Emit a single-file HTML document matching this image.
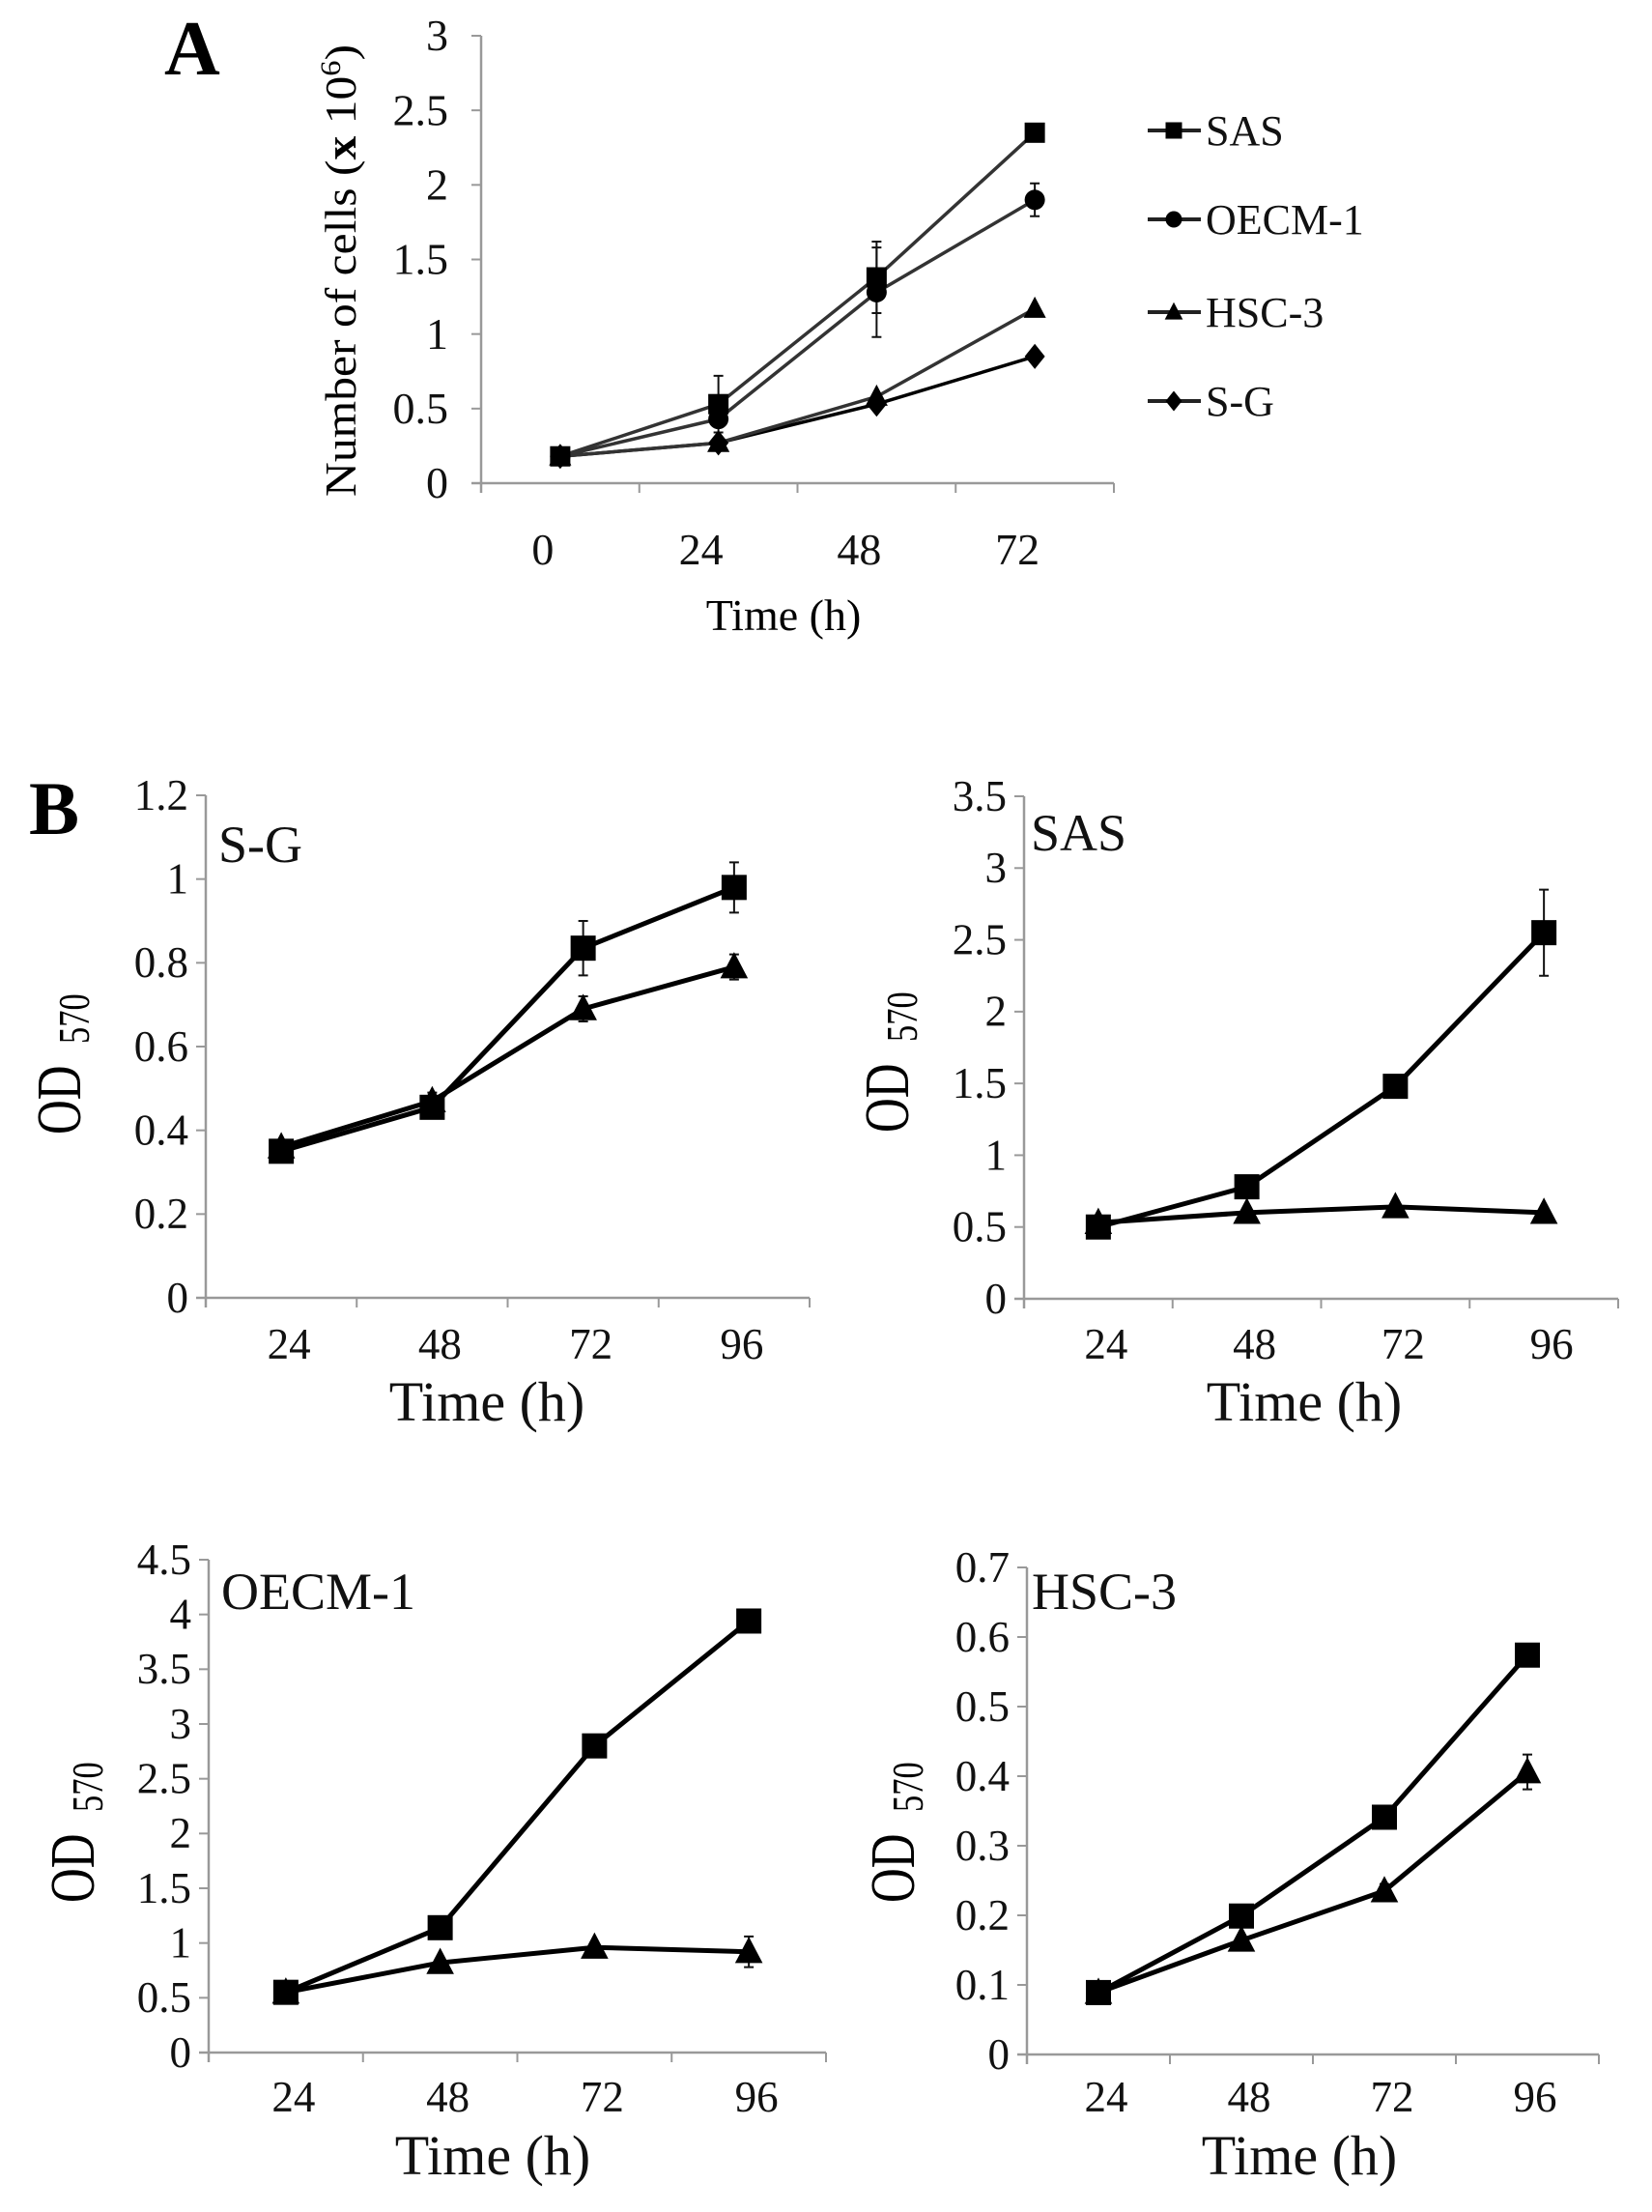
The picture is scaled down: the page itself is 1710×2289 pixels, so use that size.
<!DOCTYPE html>
<html><head><meta charset="utf-8"><style>
html,body{margin:0;padding:0;background:#fff}
svg{display:block;font-family:"Liberation Serif",serif}
</style></head><body>
<svg id="fig" width="1710" height="2289" viewBox="0 0 1710 2289" xmlns="http://www.w3.org/2000/svg">
<rect width="1710" height="2289" fill="#fff"/>
<text x="170" y="77" font-size="80" font-weight="bold">A</text>
<text x="30" y="863" font-size="78" font-weight="bold">B</text>
<text transform="translate(368,514) rotate(-90)" font-size="46" textLength="468" lengthAdjust="spacingAndGlyphs">Number of cells (<tspan font-weight="bold">x</tspan> 10<tspan font-size="30" dy="-16">6</tspan><tspan dy="16">)</tspan></text>
<text x="811" y="652" font-size="46" text-anchor="middle">Time (h)</text>
<g id="legend"></g>
</svg>
<script>
// ---- Panel A data ----
const aCats = ['0','24','48','72'];
const aTicks = [0,0.5,1,1.5,2,2.5,3];
const aTickLabels = ['0','0.5','1','1.5','2','2.5','3'];
const aSeriesNames = ['SAS','OECM-1','HSC-3','S-G'];
const aSAS = [0.18,0.53,1.38,2.35];
const aOECM = [0.18,0.43,1.28,1.90];
const aHSC = [0.18,0.27,0.58,1.17];
const aSG = [0.18,0.27,0.53,0.85];
const aSASErr = [0,0.19,0.24,0];
const aOECMErr = [0,0,0.30,0.11];
const aHSCErr = [0,0,0,0];
const aSGErr = [0,0,0,0];
// ---- Panel B data ----
const bCats = ['24','48','72','96'];
const sgTicks = [0,0.2,0.4,0.6,0.8,1,1.2];
const sgTickLabels = ['0','0.2','0.4','0.6','0.8','1','1.2'];
const sgSquare = [0.35,0.455,0.835,0.98];
const sgTriangle = [0.36,0.47,0.69,0.79];
const sgSquareErr = [0,0.02,0.065,0.06];
const sgTriangleErr = [0,0.02,0.03,0.03];
const sasTicks = [0,0.5,1,1.5,2,2.5,3,3.5];
const sasTickLabels = ['0','0.5','1','1.5','2','2.5','3','3.5'];
const sasSquare = [0.5,0.78,1.48,2.55];
const sasTriangle = [0.53,0.6,0.64,0.6];
const sasSquareErr = [0,0,0,0.3];
const sasTriangleErr = [0,0,0,0];
const oecmTicks = [0,0.5,1,1.5,2,2.5,3,3.5,4,4.5];
const oecmTickLabels = ['0','0.5','1','1.5','2','2.5','3','3.5','4','4.5'];
const oecmSquare = [0.55,1.14,2.8,3.94];
const oecmTriangle = [0.55,0.82,0.96,0.92];
const oecmSquareErr = [0,0,0,0];
const oecmTriangleErr = [0,0,0,0.14];
const hscTicks = [0,0.1,0.2,0.3,0.4,0.5,0.6,0.7];
const hscTickLabels = ['0','0.1','0.2','0.3','0.4','0.5','0.6','0.7'];
const hscSquare = [0.089,0.199,0.341,0.574];
const hscTriangle = [0.089,0.164,0.235,0.406];
const hscSquareErr = [0,0,0,0.016];
const hscTriangleErr = [0,0,0.01,0.025];

const NS='http://www.w3.org/2000/svg';
const svg=document.getElementById('fig');
function mk(tag,attrs,parent){const e=document.createElementNS(NS,tag);for(const k in attrs)e.setAttribute(k,attrs[k]);(parent||svg).appendChild(e);return e;}

function marker(g,type,x,y,s,color){
  let e;
  if(type==='square'){e=mk('rect',{x:x-s/2,y:y-s/2,width:s,height:s,fill:color},g);}
  else if(type==='circle'){e=mk('circle',{cx:x,cy:y,r:s/2,fill:color},g);}
  else if(type==='triangle'){e=mk('polygon',{points:`${x},${y-s*0.6} ${x-s*0.55},${y+s*0.45} ${x+s*0.55},${y+s*0.45}`,fill:color},g);}
  else {e=mk('polygon',{points:`${x},${y-s*0.62} ${x+s*0.5},${y} ${x},${y+s*0.62} ${x-s*0.5},${y}`,fill:color},g);}
  
  
}

function panel(p){
  const g=mk('g',{});
  
  
  const n=p.cats.length, bw=(p.x1-p.x0)/n;
  const xs=i=>p.x0+(i+0.5)*bw;
  const vmax=p.ticks[p.ticks.length-1];
  const ys=v=>p.y0-(v/vmax)*(p.y0-p.yTop);
  // axes
  const ya=mk('line',{x1:p.x0,y1:p.yTop,x2:p.x0,y2:p.y0+p.tk,stroke:'#999','stroke-width':2.5},g);
  
  
  const xa=mk('line',{x1:p.x0-p.tk,y1:p.y0,x2:p.x1,y2:p.y0,stroke:'#999','stroke-width':2.5},g);
  
  
  p.ticks.forEach((t,i)=>{
    const y=ys(t);
    const tl=mk('line',{x1:p.x0-p.tk,y1:y,x2:p.x0,y2:y,stroke:'#999','stroke-width':2},g);
    
    
    const tx=mk('text',{x:p.x0-p.lab,y:y+p.fs*0.33,'font-size':p.fs,'text-anchor':'end',fill:'#111'},g);
    tx.textContent=p.tickLabels[i];
    
    
  });
  for(let i=0;i<=n;i++){
    const x=p.x0+i*bw;
    const tl=mk('line',{x1:x,y1:p.y0,x2:x,y2:p.y0+p.tk,stroke:'#999','stroke-width':2},g);
    
    
  }
  p.cats.forEach((c,i)=>{
    const tx=mk('text',{x:xs(i)+p.xlOff,y:p.xlY,'font-size':p.fs,'text-anchor':'middle',fill:'#111'},g);
    tx.textContent=c;
    
    
  });
  // series lines
  p.series.forEach(s=>{
    const pts=s.vals.map((v,i)=>xs(i)+','+ys(v)).join(' ');
    const pl=mk('polyline',{points:pts,fill:'none',stroke:s.color,'stroke-width':p.lw,'stroke-linejoin':'round'},g);
    
    
  });
  p.series.forEach(s=>{
    s.vals.forEach((v,i)=>{
      const e=s.err[i];
      if(e>0){
        const x=xs(i);
        const eb=mk('path',{d:`M${x},${ys(v+e)}V${ys(v-e)}M${x-5},${ys(v+e)}H${x+5}M${x-5},${ys(v-e)}H${x+5}`,stroke:'#111','stroke-width':2,fill:'none'},g);
        
        
      }
    });
  });
  p.series.forEach(s=>{
    s.vals.forEach((v,i)=>marker(g,s.marker,xs(i),ys(v),p.ms,'#000'));
  });
  return g;
}

panel({name:'panel-a-chart',cats:aCats,ticks:aTicks,tickLabels:aTickLabels,x0:498,x1:1153,y0:500,yTop:37,tk:10,lab:34,fs:46,xlY:584,xlOff:-18,lw:3.5,ms:21,
  series:[
    {id:'s-g',vals:aSG,err:aSGErr,marker:'diamond',color:'#000'},
    {id:'hsc-3',vals:aHSC,err:aHSCErr,marker:'triangle',color:'#333'},
    {id:'oecm-1',vals:aOECM,err:aOECMErr,marker:'circle',color:'#333'},
    {id:'sas',vals:aSAS,err:aSASErr,marker:'square',color:'#333'}]});

// legend
const leg=document.getElementById('legend');
const legMarkers=['square','circle','triangle','diamond'];
const legY=[135,227,323,415];
aSeriesNames.forEach((nm,i)=>{
  const l=mk('line',{x1:1188,y1:legY[i],x2:1243,y2:legY[i],stroke:'#222','stroke-width':4},leg);
  
  
  marker(leg,legMarkers[i],1215,legY[i],17,'#000');
  const t=mk('text',{x:1248,y:legY[i]+15,'font-size':44,fill:'#111'},leg);
  t.textContent=nm;
  
  
});

function bPanel(name,title,titleX,titleY,ticks,tl,sq,tri,sqE,triE,x0,x1,y0,yTop,xlY,odX,odY,timeX,timeY){
  panel({name:name,cats:bCats,ticks:ticks,tickLabels:tl,x0:x0,x1:x1,y0:y0,yTop:yTop,tk:10,lab:18,fs:45,xlY:xlY,xlOff:8,lw:5,ms:26,
    series:[{id:'triangle',vals:tri,err:triE,marker:'triangle',color:'#000'},{id:'square',vals:sq,err:sqE,marker:'square',color:'#000'}]});
  const t=mk('text',{x:titleX,y:titleY,'font-size':54,fill:'#111'});
  t.textContent=title;
  
  
  const od=mk('text',{transform:`translate(${odX},${odY}) rotate(-90) scale(0.75,1)`,'font-size':66,fill:'#000'});
  od.innerHTML='OD<tspan font-size="46" dx="30" dy="9">570</tspan>';
  
  
  const tm=mk('text',{x:timeX,y:timeY,'font-size':58,'text-anchor':'middle',fill:'#111'});
  tm.textContent='Time (h)';
  
  
}
bPanel('panel-b-s-g','S-G',226,892,sgTicks,sgTickLabels,sgSquare,sgTriangle,sgSquareErr,sgTriangleErr,213,838,1343,823,1406,83,1174,504,1470);
bPanel('panel-b-sas','SAS',1067,880,sasTicks,sasTickLabels,sasSquare,sasTriangle,sasSquareErr,sasTriangleErr,1060,1675,1344,824,1406,940,1172,1350,1470);
bPanel('panel-b-oecm-1','OECM-1',229,1665,oecmTicks,oecmTickLabels,oecmSquare,oecmTriangle,oecmSquareErr,oecmTriangleErr,216,855,2124,1614,2185,97,1969,510,2250);
bPanel('panel-b-hsc-3','HSC-3',1068,1665,hscTicks,hscTickLabels,hscSquare,hscTriangle,hscSquareErr,hscTriangleErr,1063,1655,2126,1622,2185,946,1969,1345,2250);
</script>
</body></html>
